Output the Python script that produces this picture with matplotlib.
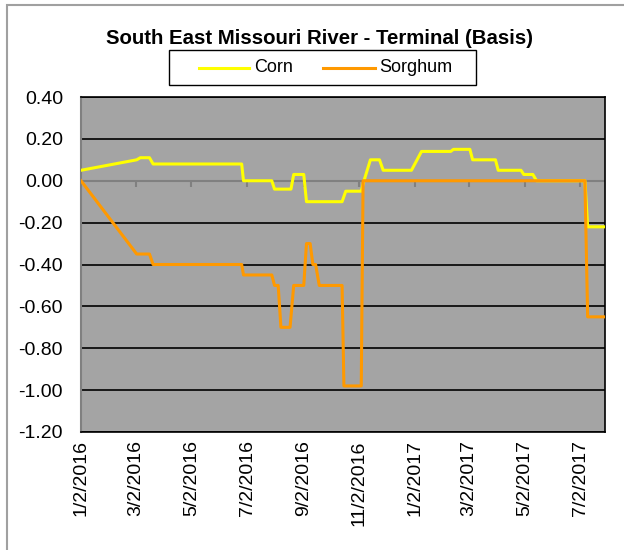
import matplotlib
matplotlib.use("Agg")
import matplotlib.pyplot as plt
from matplotlib.patches import Rectangle
from matplotlib.lines import Line2D
import pandas as pd

plt.rcParams['font.family'] = ['Liberation Sans', 'DejaVu Sans']
plt.rcParams['axes.unicode_minus'] = False

title = "South East Missouri River - Terminal (Basis)"

corn_dates = ["2016-01-02", "2016-03-03", "2016-03-07", "2016-03-17", "2016-03-21",
              "2016-06-26", "2016-06-28", "2016-07-29", "2016-08-01", "2016-08-19",
              "2016-08-22", "2016-09-02", "2016-09-05", "2016-10-14", "2016-10-18",
              "2016-11-04", "2016-11-07", "2016-11-14", "2016-11-24", "2016-11-28",
              "2016-12-29", "2017-01-09", "2017-02-10", "2017-02-13", "2017-03-03",
              "2017-03-06", "2017-03-31", "2017-04-03", "2017-04-28", "2017-05-01",
              "2017-05-11", "2017-05-15", "2017-07-07", "2017-07-10", "2017-07-29"]
corn_values = [0.05, 0.10, 0.11, 0.11, 0.08,
               0.08, 0.00, 0.00, -0.04, -0.04,
               0.03, 0.03, -0.10, -0.10, -0.05,
               -0.05, 0.00, 0.10, 0.10, 0.05,
               0.05, 0.14, 0.14, 0.15, 0.15,
               0.10, 0.10, 0.05, 0.05, 0.03,
               0.03, 0.00, 0.00, -0.22, -0.22]

sorghum_dates = ["2016-01-02", "2016-03-03", "2016-03-17", "2016-03-21", "2016-06-26",
                 "2016-06-28", "2016-07-29", "2016-08-01", "2016-08-05", "2016-08-08",
                 "2016-08-18", "2016-08-22", "2016-09-02", "2016-09-05", "2016-09-09",
                 "2016-09-12", "2016-09-15", "2016-09-19", "2016-10-14", "2016-10-16",
                 "2016-11-04", "2016-11-06", "2017-07-07", "2017-07-10", "2017-07-29"]
sorghum_values = [0.00, -0.35, -0.35, -0.40, -0.40,
                  -0.45, -0.45, -0.50, -0.50, -0.70,
                  -0.70, -0.50, -0.50, -0.30, -0.30,
                  -0.40, -0.40, -0.50, -0.50, -0.98,
                  -0.98, 0.00, 0.00, -0.65, -0.65]

series_names = ["Corn", "Sorghum"]
series_colors = ["#FFFF00", "#FF9900"]

x_tick_labels = ["1/2/2016", "3/2/2016", "5/2/2016", "7/2/2016", "9/2/2016",
                 "11/2/2016", "1/2/2017", "3/2/2017", "5/2/2017", "7/2/2017"]
y_ticks = [0.40, 0.20, 0.00, -0.20, -0.40, -0.60, -0.80, -1.00, -1.20]

W, H = 624, 550
fig = plt.figure(figsize=(W / 100, H / 100), dpi=100)
ax = fig.add_axes([81 / W, 1 - 432 / H, (605 - 81) / W, (432 - 97) / H])
ax.set_facecolor('#A4A4A4')

cd = pd.to_datetime(corn_dates)
sd = pd.to_datetime(sorghum_dates)
td = pd.to_datetime(x_tick_labels, format="%m/%d/%Y")

ax.set_xlim(cd[0], cd[-1])
ax.set_ylim(min(y_ticks), max(y_ticks))

# gridlines
for yv in y_ticks:
    ax.axhline(yv, color='black', lw=1.2, zorder=1)
# category axis at zero
ax.axhline(0, color='#808080', lw=1.5, zorder=1.5)
ax.vlines(td, -0.028, 0, color='#808080', lw=1.5, zorder=1.5)

ax.plot(cd, corn_values, color=series_colors[0], lw=2.2, solid_joinstyle='round', zorder=3, label=series_names[0])
ax.plot(sd, sorghum_values, color=series_colors[1], lw=2.2, solid_joinstyle='round', zorder=3, label=series_names[1])

ax.set_yticks(y_ticks)
ax.set_yticklabels([f"{v:.2f}" for v in y_ticks])
ax.set_xticks(td)
ax.set_xticklabels(x_tick_labels, rotation=90, va='top', ha='center')
ax.tick_params(axis='y', length=0, pad=13, labelsize=14)
ax.tick_params(axis='x', length=0, pad=6, labelsize=14)

for s in ['top', 'bottom', 'right']:
    ax.spines[s].set_color('black')
    ax.spines[s].set_linewidth(1.2)
ax.spines['left'].set_color('#808080')
ax.spines['left'].set_linewidth(1.5)

fig.text(319 / W, 1 - 39 / H, title, ha='center', va='center', fontsize=14.7, fontweight='bold')

# legend (drawn manually in figure pixel coordinates)
def fx(px):
    return px / W

def fy(py):
    return 1 - py / H

fig.patches.append(Rectangle((fx(169), fy(85)), fx(476) - fx(169), fy(50) - fy(85),
                             transform=fig.transFigure, fill=True, facecolor='white',
                             edgecolor='black', lw=1.0))
leg_line_x = [(199, 249), (323, 375)]
leg_text_x = [254, 379]
for (x0, x1), tx, name, col in zip(leg_line_x, leg_text_x, series_names, series_colors):
    fig.lines.append(Line2D([fx(x0), fx(x1)], [fy(67.5), fy(67.5)], transform=fig.transFigure,
                            color=col, lw=2.2))
    fig.text(fx(tx), fy(68), name, ha='left', va='center', fontsize=13)

# outer chart border
fig.patches.append(Rectangle((7 / W, -0.1), 1.2, 1 - 5 / H + 0.1, transform=fig.transFigure,
                             fill=False, edgecolor='#A0A0A0', lw=1.5))

fig.savefig('out.png', dpi=100)
